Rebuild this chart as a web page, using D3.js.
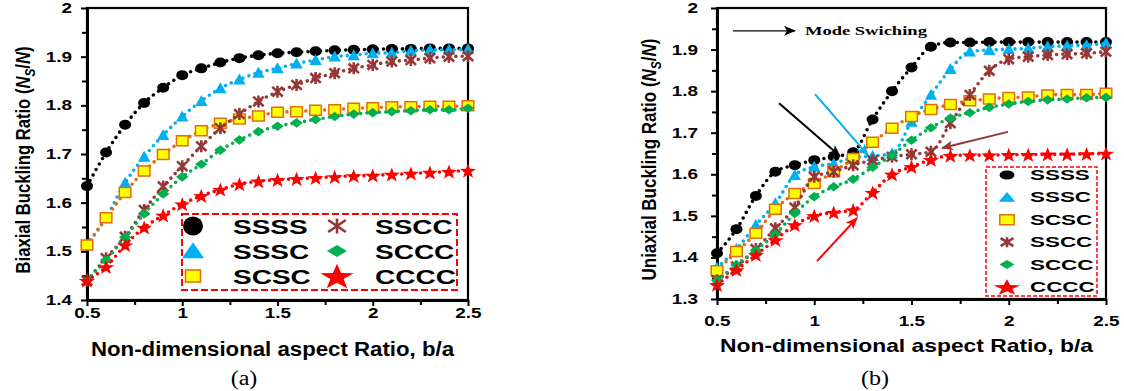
<!DOCTYPE html>
<html>
<head>
<meta charset="utf-8">
<script src="https://cdn.jsdelivr.net/npm/d3@7"></script>
<style>
  body { margin: 0; background: #fff; }
  svg { display: block; }
  text { font-family: "Liberation Sans", Arial, sans-serif; font-weight: bold; fill: #000; }
</style>
</head>
<body>
<div id="chart"></div>
<script>
// ---- data ----
const aspect = [0.5, 0.6, 0.7, 0.8, 0.9, 1.0, 1.1, 1.2, 1.3, 1.4, 1.5, 1.6, 1.7, 1.8, 1.9, 2.0, 2.1, 2.2, 2.3, 2.4, 2.5];
const cases = ["SSSS", "SSSC", "SCSC", "SSCC", "SCCC", "CCCC"];

// (a) biaxial buckling ratio
const biaxSSSS = [1.634, 1.703, 1.760, 1.805, 1.836, 1.862, 1.876, 1.888, 1.897, 1.903, 1.907, 1.909, 1.911, 1.913, 1.914, 1.915, 1.916, 1.916, 1.917, 1.917, 1.917];
const biaxSSSC = [1.513, 1.569, 1.641, 1.694, 1.739, 1.777, 1.809, 1.835, 1.853, 1.867, 1.876, 1.886, 1.893, 1.900, 1.903, 1.907, 1.908, 1.912, 1.914, 1.914, 1.915];
const biaxSCSC = [1.513, 1.569, 1.621, 1.665, 1.699, 1.727, 1.748, 1.763, 1.772, 1.778, 1.786, 1.787, 1.790, 1.791, 1.794, 1.795, 1.797, 1.797, 1.798, 1.798, 1.799];
const biaxSSCC = [1.440, 1.486, 1.530, 1.585, 1.633, 1.675, 1.716, 1.753, 1.782, 1.808, 1.828, 1.842, 1.856, 1.866, 1.876, 1.883, 1.890, 1.893, 1.897, 1.900, 1.901];
const biaxSCCC = [1.440, 1.482, 1.529, 1.577, 1.618, 1.653, 1.679, 1.708, 1.729, 1.746, 1.757, 1.764, 1.771, 1.777, 1.782, 1.785, 1.787, 1.789, 1.791, 1.791, 1.794];
const biaxCCCC = [1.440, 1.468, 1.513, 1.549, 1.574, 1.597, 1.614, 1.627, 1.638, 1.644, 1.647, 1.649, 1.651, 1.653, 1.655, 1.656, 1.658, 1.660, 1.662, 1.664, 1.666];

// (b) uniaxial buckling ratio
const uniSSSS = [1.410, 1.468, 1.548, 1.606, 1.622, 1.634, 1.642, 1.653, 1.732, 1.800, 1.857, 1.907, 1.917, 1.917, 1.918, 1.918, 1.918, 1.918, 1.918, 1.918, 1.918];
const uniSSSC = [1.375, 1.420, 1.478, 1.530, 1.598, 1.618, 1.626, 1.640, 1.644, 1.650, 1.726, 1.791, 1.853, 1.895, 1.899, 1.901, 1.903, 1.907, 1.909, 1.911, 1.915];
const uniSCSC = [1.368, 1.414, 1.458, 1.516, 1.554, 1.578, 1.606, 1.638, 1.677, 1.711, 1.739, 1.756, 1.768, 1.777, 1.781, 1.785, 1.786, 1.791, 1.792, 1.792, 1.795];
const uniSSCC = [1.345, 1.378, 1.420, 1.470, 1.520, 1.594, 1.606, 1.622, 1.634, 1.642, 1.648, 1.654, 1.723, 1.791, 1.849, 1.877, 1.883, 1.887, 1.889, 1.891, 1.895];
const uniSCCC = [1.345, 1.382, 1.418, 1.456, 1.506, 1.546, 1.570, 1.588, 1.617, 1.646, 1.682, 1.712, 1.735, 1.748, 1.761, 1.769, 1.775, 1.779, 1.781, 1.784, 1.785];
const uniCCCC = [1.334, 1.370, 1.406, 1.442, 1.478, 1.500, 1.508, 1.514, 1.556, 1.600, 1.618, 1.635, 1.645, 1.646, 1.646, 1.647, 1.647, 1.648, 1.648, 1.649, 1.650];

// ticks
const xTicks = [0.5, 1, 1.5, 2, 2.5];
const xMinor = [0.75, 1.25, 1.75, 2.25];
const yTicksA = [1.4, 1.5, 1.6, 1.7, 1.8, 1.9, 2];
const yTicksB = [1.3, 1.4, 1.5, 1.6, 1.7, 1.8, 1.9, 2];

// mode-switching arrows in (b), in data units: [x1, y1, x2, y2, colour]
const modeArrows = [
    [0.819, 1.771, 1.132, 1.644, "#000000"],
    [1.004, 1.793, 1.276, 1.646, "#00b0f0"],
    [1.996, 1.702, 1.657, 1.663, "#953735"],
    [1.014, 1.391, 1.220, 1.495, "#ff0000"]
];

// ---- styling ----
const look = {
    SSSS: { shape: "circle",   fill: "#000000", stroke: "none",    line: "#000000" },
    SSSC: { shape: "triangle", fill: "#00b0f0", stroke: "none",    line: "#00b0f0" },
    SCSC: { shape: "square",   fill: "#ffff00", stroke: "#e46c0a", line: "#e46c0a" },
    SSCC: { shape: "asterisk", fill: "none",    stroke: "#953735", line: "#953735" },
    SCCC: { shape: "diamond",  fill: "#00b050", stroke: "none",    line: "#00b050" },
    CCCC: { shape: "star",     fill: "#ff0000", stroke: "none",    line: "#ff0000" }
};

// unit shapes (half extent ~1), stretched per use
function starPath() {
    let p = "";
    for (let i = 0; i < 10; i++) {
        const r = i % 2 === 0 ? 1 : 0.4;
        const a = -Math.PI / 2 + i * Math.PI / 5;
        p += (i ? "L" : "M") + (r * Math.cos(a)).toFixed(3) + "," + (r * Math.sin(a) + 0.1).toFixed(3);
    }
    return p + "Z";
}
const shapePaths = {
    circle: "M1,0A1,1 0 1,1 -1,0A1,1 0 1,1 1,0Z",
    triangle: "M0,-1.1L1,0.9L-1,0.9Z",
    square: "M-1,-1H1V1H-1Z",
    asterisk: "M0,-1V1M-0.8,-0.8L0.8,0.8M-0.8,0.8L0.8,-0.8",
    diamond: "M0,-1L1,0L0,1L-1,0Z",
    star: starPath()
};

// half-width, half-height per shape
const plotSize = { circle: [6, 5], triangle: [6.2, 5.5], square: [5.8, 5], asterisk: [6.5, 6], diamond: [6.2, 4.8], star: [8.6, 7.8] };
const legendSizeA = { circle: [10, 9.5], triangle: [11, 8], square: [7.5, 6], asterisk: [11, 7.5], diamond: [10, 6], star: [17.5, 13.5] };
const legendSizeB = { circle: [7.5, 4.5], triangle: [8.3, 4.8], square: [7.2, 5], asterisk: [8, 5], diamond: [7.5, 4.5], star: [14, 8.5] };

function drawMarker(g, name, x, y, size) {
    const s = look[name];
    const [sx, sy] = size[s.shape];
    g.append("path")
        .attr("d", shapePaths[s.shape])
        .attr("transform", `translate(${x},${y}) scale(${sx},${sy})`)
        .attr("fill", s.fill)
        .attr("stroke", s.stroke)
        .attr("stroke-width", s.shape === "asterisk" ? 2.6 : 1.5)
        .attr("vector-effect", "non-scaling-stroke");
}

function stretch(sel, k) {
    sel.each(function () {
        const w = this.getComputedTextLength();
        d3.select(this).attr("textLength", w * k).attr("lengthAdjust", "spacingAndGlyphs");
    });
}

const width = 1124;
const height = 391;

const svg = d3.select("#chart")
    .append("svg")
    .attr("width", width)
    .attr("height", height);

const defs = svg.append("defs");
function arrowHead(id, color) {
    defs.append("marker")
        .attr("id", id)
        .attr("viewBox", "0 0 12 10")
        .attr("refX", 11)
        .attr("refY", 5)
        .attr("markerWidth", 12)
        .attr("markerHeight", 10)
        .attr("markerUnits", "userSpaceOnUse")
        .attr("orient", "auto")
        .append("path")
        .attr("d", "M0,0L12,5L0,10L3,5Z")
        .attr("fill", color);
}

const panels = [
    {
        left: 87, right: 468, top: 8, bottom: 300,
        yDomain: [1.4, 2], yTicks: yTicksA,
        values: [biaxSSSS, biaxSSSC, biaxSCSC, biaxSSCC, biaxSCCC, biaxCCCC],
        yLabel: "Biaxial Buckling Ratio (", yLabelX: 30, yLabelLen: 227,
        yPad: 9, xPad: 2, xTitleY: 356, xTitleSize: 20, xTitleLen: 363,
        caption: "(a)", captionX: 244
    },
    {
        left: 717, right: 1106, top: 8, bottom: 299,
        yDomain: [1.3, 2], yTicks: yTicksB,
        values: [uniSSSS, uniSSSC, uniSCSC, uniSSCC, uniSCCC, uniCCCC],
        yLabel: "Uniaxial Buckling Ratio (", yLabelX: 656, yLabelLen: 242,
        yPad: 13, xPad: 11, xTitleY: 352, xTitleSize: 19, xTitleLen: 373,
        caption: "(b)", captionX: 875
    }
];

panels.forEach(p => {
    const x = d3.scaleLinear().domain([0.5, 2.5]).range([p.left, p.right]);
    const y = d3.scaleLinear().domain(p.yDomain).range([p.bottom, p.top]);
    const g = svg.append("g");
    p.x = x;
    p.y = y;

    // frame
    g.append("rect")
        .attr("x", p.left).attr("y", p.top)
        .attr("width", p.right - p.left).attr("height", p.bottom - p.top)
        .attr("fill", "none").attr("stroke", "#000").attr("stroke-width", 2.2);

    // minor ticks
    const yMinor = d3.range(p.yDomain[0] * 100, p.yDomain[1] * 100 + 1, 5).map(v => v / 100)
        .filter(v => !p.yTicks.some(t => Math.abs(t - v) < 1e-6));
    g.append("g").attr("transform", `translate(${p.left},0)`)
        .call(d3.axisLeft(y).tickValues(yMinor).tickSize(5).tickSizeOuter(0).tickFormat(""))
        .call(a => a.select(".domain").remove())
        .selectAll("line").attr("stroke-width", 2);
    g.append("g").attr("transform", `translate(0,${p.bottom})`)
        .call(d3.axisBottom(x).tickValues(xMinor).tickSize(5).tickSizeOuter(0).tickFormat(""))
        .call(a => a.select(".domain").remove())
        .selectAll("line").attr("stroke-width", 2);

    // major axes
    const ya = g.append("g").attr("transform", `translate(${p.left},0)`)
        .call(d3.axisLeft(y).tickValues(p.yTicks).tickSize(6).tickSizeOuter(0).tickPadding(p.yPad).tickFormat(d3.format("")));
    const xa = g.append("g").attr("transform", `translate(0,${p.bottom})`)
        .call(d3.axisBottom(x).tickValues(xTicks).tickSize(6).tickSizeOuter(0).tickPadding(p.xPad).tickFormat(d3.format("")));
    [ya, xa].forEach(a => {
        a.select(".domain").attr("stroke-width", 3);
        a.selectAll(".tick line").attr("stroke-width", 2);
        a.selectAll("text")
            .style("font-family", '"Liberation Sans", Arial, sans-serif')
            .style("font-weight", "bold")
            .style("font-size", "14px")
            .call(stretch, 1.35);
    });

    // series: dotted line, then markers
    cases.forEach((name, i) => {
        const vals = p.values[i];
        const pts = aspect.map((a, j) => [a, vals[j]]);
        g.append("path")
            .datum(pts)
            .attr("d", d3.line().x(d => x(d[0])).y(d => y(d[1])).curve(d3.curveMonotoneX))
            .attr("fill", "none")
            .attr("stroke", look[name].line)
            .attr("stroke-width", 3.6)
            .attr("stroke-linecap", "round")
            .attr("stroke-dasharray", "0,6.3");
        const mg = g.append("g");
        pts.forEach(d => drawMarker(mg, name, x(d[0]), y(d[1]), plotSize));
    });

    // axis titles
    g.append("text")
        .attr("x", (p.left + p.right) / 2 - 5)
        .attr("y", p.xTitleY)
        .attr("text-anchor", "middle")
        .style("font-size", p.xTitleSize + "px")
        .attr("textLength", p.xTitleLen)
        .attr("lengthAdjust", "spacingAndGlyphs")
        .text("Non-dimensional aspect Ratio, b/a");

    // rotated title, glyphs a little taller as in the source figure
    const yt = g.append("text")
        .attr("transform", `translate(${p.yLabelX},${(p.top + p.bottom) / 2 + 6}) rotate(-90) scale(1,1.2)`)
        .attr("text-anchor", "middle")
        .style("font-size", "17px")
        .attr("textLength", p.yLabelLen)
        .attr("lengthAdjust", "spacingAndGlyphs");
    yt.append("tspan").text(p.yLabel);
    yt.append("tspan").style("font-style", "italic").text("N");
    yt.append("tspan").style("font-style", "italic").style("font-size", "12px").attr("dy", 4).text("S");
    yt.append("tspan").attr("dy", -4).text("/");
    yt.append("tspan").style("font-style", "italic").text("N");
    yt.append("tspan").text(")");

    // caption
    g.append("text")
        .attr("x", p.captionX)
        .attr("y", 385)
        .attr("text-anchor", "middle")
        .style("font-family", '"Liberation Serif", "Times New Roman", serif')
        .style("font-weight", "normal")
        .style("font-size", "20px")
        .text(p.caption)
        .call(stretch, 1.2);
});

// ---- legend (a): two columns, dashed red box ----
{
    const lg = svg.append("g");
    lg.append("rect")
        .attr("x", 182).attr("y", 214).attr("width", 275).attr("height", 76)
        .attr("fill", "#fff").attr("stroke", "#ff0000").attr("stroke-width", 2)
        .attr("stroke-dasharray", "7,3");
    const rows = [226, 251, 276];
    cases.forEach((name, i) => {
        const col = Math.floor(i / 3);
        const ry = rows[i % 3];
        const mx = col === 0 ? 193 : 337;
        const tx = col === 0 ? 233 : 375;
        drawMarker(lg, name, mx, ry, legendSizeA);
        lg.append("text")
            .attr("x", tx).attr("y", ry + 7.5)
            .style("font-size", "20px")
            .text(name)
            .call(stretch, 1.4);
    });
}

// ---- legend (b): single column ----
{
    const lg = svg.append("g");
    lg.append("rect")
        .attr("x", 986).attr("y", 167).attr("width", 111).attr("height", 129)
        .attr("fill", "#fff").attr("stroke", "#ff0000").attr("stroke-width", 1.5)
        .attr("stroke-dasharray", "4,2");
    cases.forEach((name, i) => {
        const ry = 175 + i * 22.4;
        drawMarker(lg, name, 1007, ry, legendSizeB);
        lg.append("text")
            .attr("x", 1030).attr("y", ry + 5)
            .style("font-size", "14px")
            .text(name)
            .call(stretch, 1.6);
    });
}

// ---- annotations in (b) ----
{
    const p = panels[1];
    const ag = svg.append("g");
    modeArrows.forEach(([x1, y1, x2, y2, c], i) => {
        arrowHead("ah" + i, c);
        ag.append("line")
            .attr("x1", p.x(x1)).attr("y1", p.y(y1))
            .attr("x2", p.x(x2)).attr("y2", p.y(y2))
            .attr("stroke", c).attr("stroke-width", 2)
            .attr("marker-end", `url(#ah${i})`);
    });
    arrowHead("ahMode", "#000");
    ag.append("line")
        .attr("x1", p.x(0.582)).attr("y1", p.y(1.945))
        .attr("x2", p.x(0.901)).attr("y2", p.y(1.945))
        .attr("stroke", "#000").attr("stroke-width", 1.3)
        .attr("marker-end", "url(#ahMode)");
    ag.append("text")
        .attr("x", p.x(0.952)).attr("y", p.y(1.935))
        .style("font-family", '"Liberation Serif", "Times New Roman", serif')
        .style("font-size", "13.5px")
        .attr("textLength", 122)
        .attr("lengthAdjust", "spacingAndGlyphs")
        .text("Mode Swiching");
}
</script>
</body>
</html>
